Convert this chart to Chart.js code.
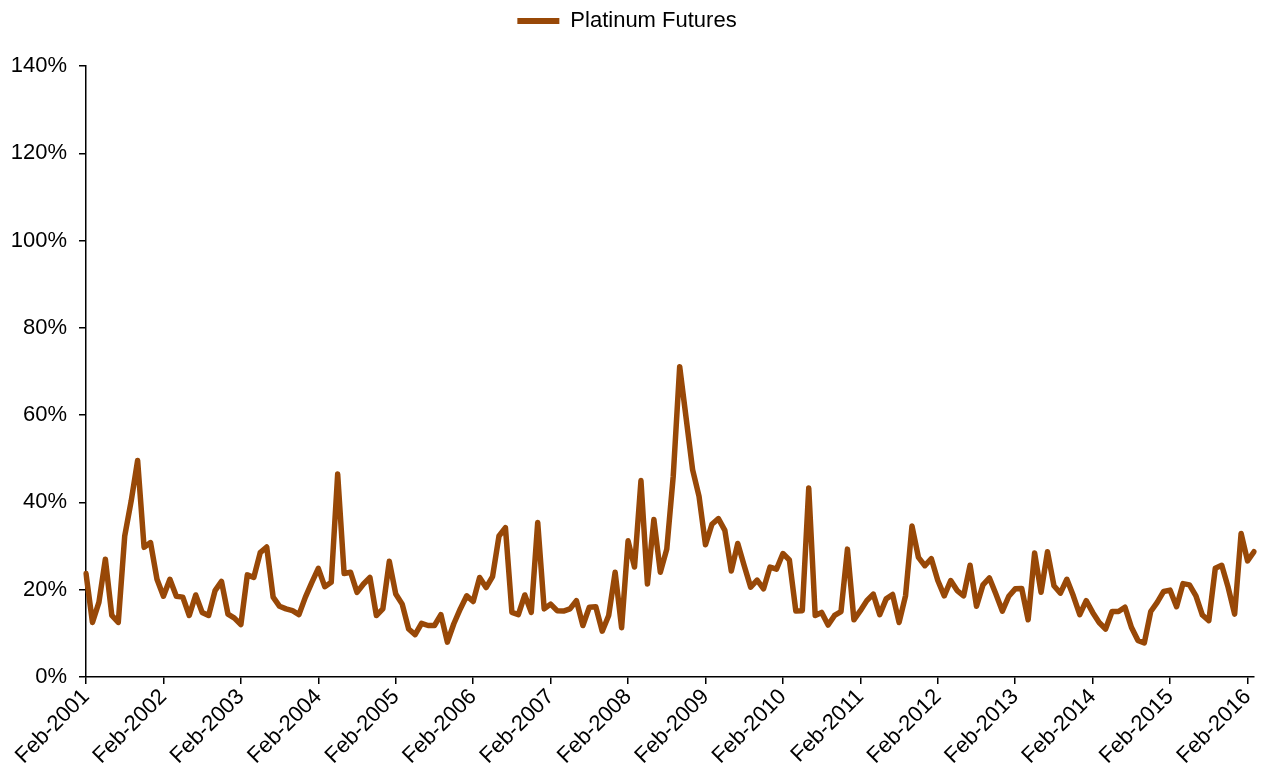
<!DOCTYPE html>
<html>
<head>
<meta charset="utf-8">
<script src="https://cdn.jsdelivr.net/npm/chart.js@4/dist/chart.umd.min.js"></script>
<style>
  html, body { margin: 0; padding: 0; background: #fff; }
  #wrap { width: 1271px; height: 775px; position: relative; }
</style>
</head>
<body>
<div id="wrap"><canvas id="chart"></canvas></div>
<script>
const SERIES_NAME = 'Platinum Futures';
const LINE_COLOR = '#984807';

const MONTHS = ['Jan', 'Feb', 'Mar', 'Apr', 'May', 'Jun', 'Jul', 'Aug', 'Sep', 'Oct', 'Nov', 'Dec'];
const START_YEAR = 2001;
const START_MONTH = 1; // Feb

// monthly values in %, Feb-2001 .. Mar-2016
const platinum = [
  23.7, 12.5, 17.1, 27.0, 14.1, 12.5, 32.3, 40.3, 49.6, 29.7, 30.8, 22.4,
  18.5, 22.4, 18.5, 18.3, 14.1, 18.8, 14.8, 14.1, 19.8, 21.9, 14.4, 13.5,
  12.0, 23.4, 22.8, 28.5, 29.8, 18.3, 16.2, 15.6, 15.2, 14.3, 18.3, 21.7,
  24.9, 20.7, 21.7, 46.5, 23.7, 24.0, 19.4, 21.3, 22.8, 14.1, 15.6, 26.5,
  19.0, 16.7, 11.0, 9.7, 12.3, 11.8, 11.8, 14.3, 8.0, 12.2, 15.6, 18.6,
  17.3, 22.8, 20.5, 23.0, 32.3, 34.2, 14.8, 14.3, 18.8, 14.8, 35.4, 15.6,
  16.7, 15.2, 15.1, 15.6, 17.5, 11.8, 16.0, 16.1, 10.5, 14.1, 24.0, 11.3,
  31.2, 25.2, 45.0, 21.3, 36.1, 24.0, 29.3, 46.0, 71.1, 59.3, 47.5, 41.4,
  30.3, 35.0, 36.3, 33.6, 24.3, 30.6, 25.5, 20.6, 22.2, 20.2, 25.2, 24.7,
  28.3, 26.8, 15.1, 15.2, 43.3, 14.1, 14.8, 11.9, 14.1, 15.0, 29.3, 13.1,
  15.2, 17.5, 19.0, 14.3, 17.9, 18.9, 12.5, 18.6, 34.6, 27.4, 25.5, 27.1,
  22.1, 18.6, 22.1, 19.8, 18.6, 25.6, 16.2, 21.1, 22.7, 19.0, 15.1, 18.5,
  20.2, 20.3, 13.1, 28.4, 19.4, 28.7, 20.9, 19.2, 22.4, 18.6, 14.3, 17.5,
  14.8, 12.5, 11.0, 15.0, 15.0, 16.0, 11.4, 8.4, 7.8, 15.0, 17.1, 19.6,
  19.9, 16.1, 21.4, 21.1, 18.6, 14.2, 12.9, 24.9, 25.6, 20.5, 14.4, 32.9,
  26.6, 28.7
];

const Y_MIN = 0;
const Y_MAX = 140;
const Y_STEP = 20;

function monthLabel(i) {
  const m = (START_MONTH + i) % 12;
  const y = START_YEAR + Math.floor((START_MONTH + i) / 12);
  return MONTHS[m] + '-' + y;
}

const labels = platinum.map((_, i) => monthLabel(i));

Chart.defaults.font.family = '"Liberation Sans", Arial, Helvetica, sans-serif';
Chart.defaults.font.size = 22;
Chart.defaults.color = '#000';

// keep the plot top where the reference has it
const legendHeight = {
  id: 'legendHeight',
  beforeInit(chart) {
    const fit = chart.legend.fit;
    chart.legend.fit = function () {
      fit.call(this);
      this.height = 66;
    };
  }
};

new Chart(document.getElementById('chart'), {
  type: 'line',
  data: {
    labels,
    datasets: [{
      label: SERIES_NAME,
      data: platinum,
      borderColor: LINE_COLOR,
      backgroundColor: LINE_COLOR,
      borderWidth: 5.5,
      borderJoinStyle: 'round',
      borderCapStyle: 'round',
      pointRadius: 0,
      tension: 0,
      fill: false,
    }]
  },
  options: {
    responsive: true,
    maintainAspectRatio: false,
    animation: false,
    layout: { padding: { left: 0, right: 17, top: 0, bottom: 0 } },
    plugins: {
      legend: {
        position: 'top',
        labels: {
          boxWidth: 42,
          boxHeight: 6,
          padding: 10,
          font: { size: 22 },
          generateLabels: (chart) => Chart.defaults.plugins.legend.labels.generateLabels(chart).map(l => {
            l.lineWidth = 0;
            l.fillStyle = LINE_COLOR;
            return l;
          })
        }
      },
      tooltip: { enabled: false }
    },
    scales: {
      x: {
        type: 'category',
        offset: false,
        grid: {
          drawOnChartArea: false,
          drawTicks: true,
          tickLength: 7,
          color: '#000',
          lineWidth: 1.5,
        },
        border: { color: '#000', width: 1.5 },
        ticks: {
          autoSkip: false,
          maxRotation: 45,
          minRotation: 45,
          padding: 0,
          color: '#000',
          font: { size: 22 },
          callback: function (value, index) {
            return index % 12 === 0 ? this.getLabelForValue(value) : null;
          }
        },
        afterFit: (scale) => { scale.height = 98; }
      },
      y: {
        min: Y_MIN,
        max: Y_MAX,
        grid: {
          drawOnChartArea: false,
          drawTicks: true,
          tickLength: 7,
          color: '#000',
          lineWidth: 1.5,
        },
        border: { color: '#000', width: 1.5 },
        ticks: {
          stepSize: Y_STEP,
          padding: 12,
          color: '#000',
          font: { size: 22 },
          callback: (v) => v + '%'
        },
        afterFit: (scale) => { scale.width = 86; }
      }
    }
  },
  plugins: [legendHeight]
});
</script>
</body>
</html>
